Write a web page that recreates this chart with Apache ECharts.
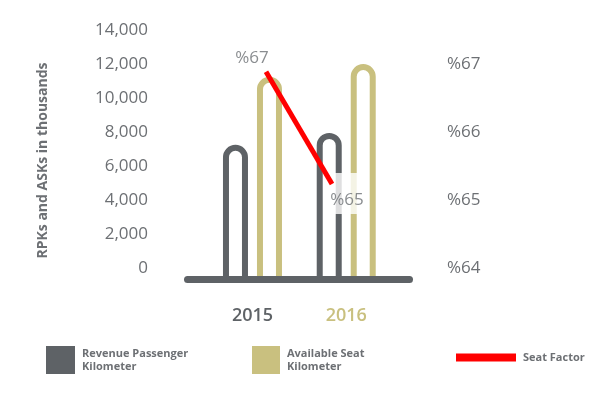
<!DOCTYPE html>
<html><head><meta charset="utf-8">
<script src="https://cdn.jsdelivr.net/npm/echarts@6/dist/echarts.min.js"></script>
<style>html,body{margin:0;padding:0;background:#fff}#c{width:598px;height:395px}</style>
</head><body><div id="c"></div>
<script>
// ---- data ----
const categories = ['2015', '2016'];
const rpk = [8100, 8800];            // Revenue Passenger Kilometer (thousands)
const ask = [12100, 12850];          // Available Seat Kilometer (thousands)
const seatFactor = [67.1, 65.45];    // Seat Factor (%)
const seriesNames = ['Revenue Passenger Kilometer', 'Available Seat Kilometer', 'Seat Factor'];
const legendLabels = ['Revenue Passenger\nKilometer', 'Available Seat\nKilometer', 'Seat Factor'];

// ---- style ----
const GRAY = '#5e6266', GOLD = '#c9c07f', RED = '#ff0000', TXT = '#6d7074';
const FONT = 'Open Sans';
const catColors = [GRAY, GOLD];

const chart = echarts.init(document.getElementById('c'));
const gridBox = { top: 44.5, bottom: 112.5 };

function legendFor(i, left, top, w, h, color) {
  return {
    data: [{ name: seriesNames[i], itemStyle: { color: color, borderWidth: 0 } }],
    left: left, top: top, itemWidth: w, itemHeight: h, icon: 'rect',
    selectedMode: false, padding: 0,
    formatter: n => legendLabels[seriesNames.indexOf(n)],
    textStyle: { fontFamily: FONT, fontWeight: 'bold', fontSize: 11, color: TXT, lineHeight: 13, padding: [0, 0, 0, 2] }
  };
}

const tickLabel = { color: TXT, fontFamily: FONT, fontSize: 17, verticalAlign: 'bottom', lineHeight: 29 };

chart.setOption({
  animation: false,
  backgroundColor: '#fff',
  grid: [
    Object.assign({ left: 205.6, right: 204.9 }, gridBox),
    { left: 187.5, right: 188.5, top: 41.5, bottom: 115.5 },
    Object.assign({ left: 266, right: 266 }, gridBox)
  ],
  legend: [
    legendFor(0, 46, 346, 29, 28, GRAY),
    legendFor(1, 252, 346, 28, 28, GOLD),
    legendFor(2, 456, 351, 60, 8, RED)
  ],
  xAxis: [
    { gridIndex: 0, type: 'category',
      data: categories.map((c, i) => ({ value: c, textStyle: { color: catColors[i] } })),
      axisLine: { show: false }, axisTick: { show: false },
      axisLabel: { margin: 23, fontFamily: FONT, fontSize: 18, fontWeight: 600, lineHeight: 20 } },
    { gridIndex: 1, type: 'value', min: 0, max: 1, z: 10,
      axisLine: { show: true, lineStyle: { color: GRAY, width: 7, cap: 'round' } },
      axisTick: { show: false }, axisLabel: { show: false }, splitLine: { show: false } },
    { gridIndex: 2, type: 'category', data: categories, boundaryGap: false, show: false }
  ],
  yAxis: [
    { gridIndex: 0, type: 'value', min: 0, max: 14000, interval: 2000,
      axisLine: { show: false }, axisTick: { show: false }, splitLine: { show: false },
      axisLabel: Object.assign({ margin: 57.6, formatter: v => v.toLocaleString('en-US') }, tickLabel),
      name: 'RPKs and ASKs in thousands', nameLocation: 'middle', nameGap: 156,
      nameTextStyle: { color: TXT, fontFamily: FONT, fontWeight: 'bold', fontSize: 14, padding: [0, 0, 0, 6] } },
    { gridIndex: 1, type: 'value', show: false },
    { gridIndex: 2, type: 'value', min: 64, max: 67.5, interval: 1, position: 'right',
      axisLine: { show: false }, axisTick: { show: false }, splitLine: { show: false },
      axisLabel: Object.assign({ margin: 115, formatter: v => Number.isInteger(v) ? '%' + v : '' }, tickLabel) }
  ],
  series: [
    { name: seriesNames[0], type: 'bar', xAxisIndex: 0, yAxisIndex: 0, data: rpk,
      barWidth: 25, barGap: '36%', z: 2,
      itemStyle: { color: '#fff', borderColor: GRAY, borderWidth: 6, borderRadius: [12.5, 12.5, 0, 0] } },
    { name: seriesNames[1], type: 'bar', xAxisIndex: 0, yAxisIndex: 0, data: ask,
      barWidth: 25, barGap: '36%', z: 2,
      itemStyle: { color: '#fff', borderColor: GOLD, borderWidth: 6, borderRadius: [12.5, 12.5, 0, 0] } },
    { name: 'labels', type: 'scatter', xAxisIndex: 2, yAxisIndex: 2, z: 4,
      symbolSize: 1, itemStyle: { color: 'rgba(0,0,0,0)' }, silent: true,
      data: seatFactor.map((v, i) => ({
        value: v,
        label: i === 0
          ? { offset: [-14, -14] }
          : { offset: [15, 9.5], backgroundColor: '#fff', padding: [4, 2, 4, 2] }
      })),
      label: { show: true, position: 'inside',
        formatter: p => p.dataIndex === 0 ? '{t|%' + Math.round(p.value) + '}' : '{s| }\n{t|%' + Math.round(p.value) + '}',
        rich: {
          s: { fontSize: 10, lineHeight: 13 },
          t: { color: TXT, fontFamily: FONT, fontSize: 17, lineHeight: 20 }
        } } },
    { name: seriesNames[2], type: 'line', xAxisIndex: 2, yAxisIndex: 2, data: seatFactor, z: 6,
      color: RED, symbol: 'none', lineStyle: { color: RED, width: 5 } }
  ]
});
</script></body></html>
